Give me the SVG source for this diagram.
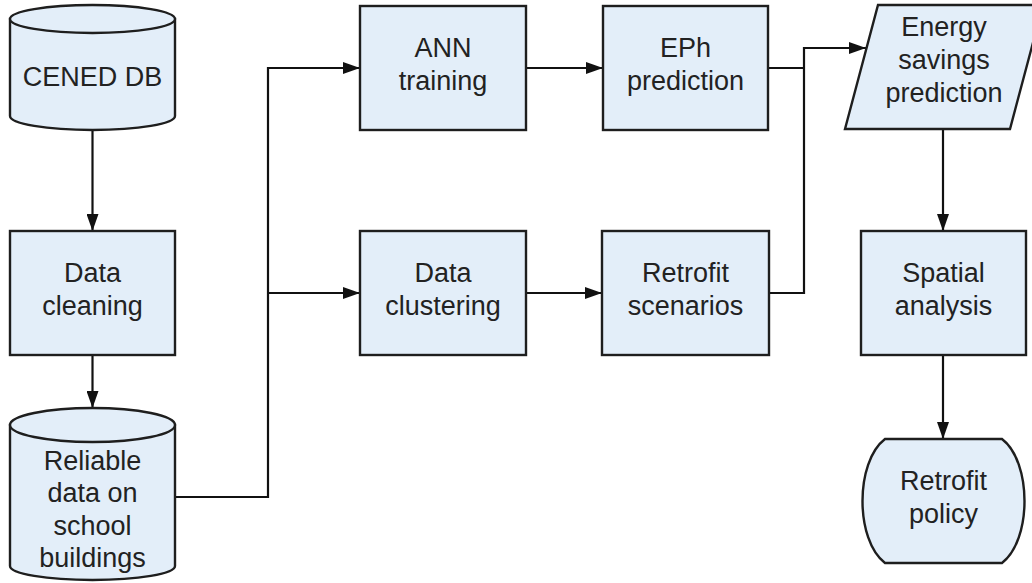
<svg xmlns="http://www.w3.org/2000/svg" width="1032" height="583" viewBox="0 0 1032 583">
<defs>
<style>
.n{fill:#e3eef9;stroke:#1e1e1e;stroke-width:2.4}
.t{font-family:"Liberation Sans",Arial,sans-serif;font-size:27px;fill:#222;text-anchor:middle}
.c{fill:none;stroke:#111;stroke-width:2.2}
</style>
<marker id="ah" viewBox="0 0 17 12" refX="17" refY="6" markerWidth="17" markerHeight="12" markerUnits="userSpaceOnUse" orient="auto">
<path d="M0,0 L17,6 L0,12 Z" fill="#111"/>
</marker>
</defs>
<rect width="1032" height="583" fill="#fff"/>
<g id="connectors">
<path class="c" d="M92.5 130 V231" marker-end="url(#ah)"/>
<path class="c" d="M92.5 355 V408" marker-end="url(#ah)"/>
<path class="c" d="M175 497 H268 V68 H360" marker-end="url(#ah)"/>
<path class="c" d="M268 293 H360" marker-end="url(#ah)"/>
<path class="c" d="M526 68 H603" marker-end="url(#ah)"/>
<path class="c" d="M526 293 H602" marker-end="url(#ah)"/>
<path class="c" d="M769 293 H804 V48 H866" marker-end="url(#ah)"/>
<path class="c" d="M768 68 H804"/>
<path class="c" d="M943 129 V231" marker-end="url(#ah)"/>
<path class="c" d="M943 355 V439" marker-end="url(#ah)"/>
</g>
<g id="cened">
<path class="n" d="M10 19 V116 A82.5 14 0 0 0 175 116 V19 Z"/>
<ellipse class="n" cx="92.5" cy="19" rx="82.5" ry="14"/>
<text class="t" x="92.5" y="86">CENED DB</text>
</g>
<g id="cleaning">
<rect class="n" x="10" y="231" width="165" height="124"/>
<text class="t" x="92.5" y="282">Data</text>
<text class="t" x="92.5" y="315">cleaning</text>
</g>
<g id="reliable">
<path class="n" d="M10 425 V566 A82.5 14 0 0 0 175 566 V425 Z"/>
<ellipse class="n" cx="92.5" cy="425" rx="82.5" ry="17"/>
<text class="t" x="92.5" y="470">Reliable</text>
<text class="t" x="92.5" y="502">data on</text>
<text class="t" x="92.5" y="535">school</text>
<text class="t" x="92.5" y="567">buildings</text>
</g>
<g id="ann">
<rect class="n" x="360" y="6" width="166" height="124"/>
<text class="t" x="443" y="57">ANN</text>
<text class="t" x="443" y="90">training</text>
</g>
<g id="eph">
<rect class="n" x="603" y="6" width="165" height="124"/>
<text class="t" x="685.5" y="57">EPh</text>
<text class="t" x="685.5" y="90">prediction</text>
</g>
<g id="clustering">
<rect class="n" x="360" y="231" width="166" height="124"/>
<text class="t" x="443" y="282">Data</text>
<text class="t" x="443" y="315">clustering</text>
</g>
<g id="scenarios">
<rect class="n" x="602" y="231" width="167" height="124"/>
<text class="t" x="685.5" y="282">Retrofit</text>
<text class="t" x="685.5" y="315">scenarios</text>
</g>
<g id="energy">
<path class="n" d="M878 5 H1043 L1010 129 H845 Z"/>
<text class="t" x="944" y="36">Energy</text>
<text class="t" x="944" y="69">savings</text>
<text class="t" x="944" y="102">prediction</text>
</g>
<g id="spatial">
<rect class="n" x="861" y="231" width="165" height="124"/>
<text class="t" x="943.5" y="282">Spatial</text>
<text class="t" x="943.5" y="315">analysis</text>
</g>
<g id="policy">
<path class="n" d="M885 439 H1002 C1032 462 1032 540 1002 563 H885 C855 540 855 462 885 439 Z"/>
<text class="t" x="943.5" y="490">Retrofit</text>
<text class="t" x="943.5" y="523">policy</text>
</g>
</svg>
